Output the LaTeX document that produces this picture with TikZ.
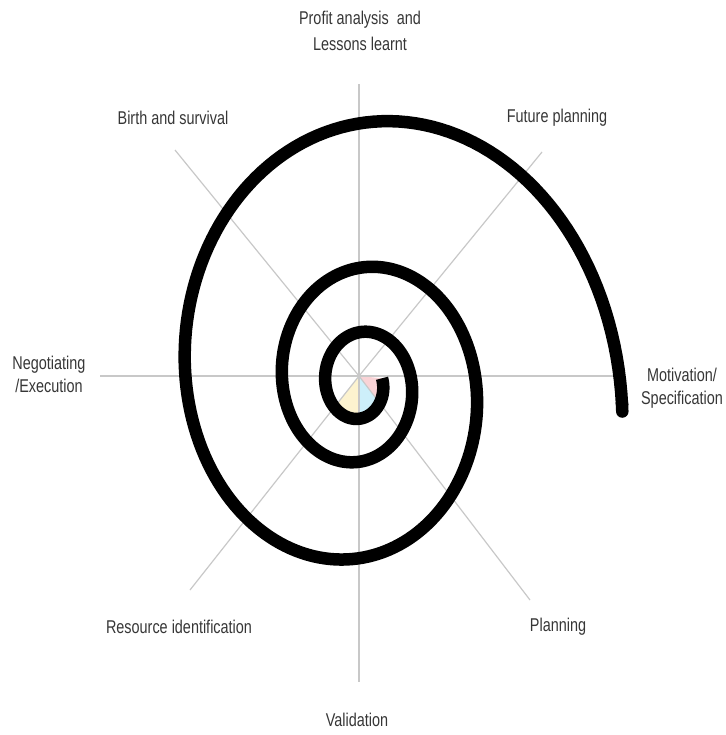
\documentclass[tikz,border=0pt]{standalone}
\usepackage{fontspec}
\setmainfont{Liberation Sans}[FakeStretch=0.78]
\usepackage{tikz}
\usetikzlibrary{arrows.meta}
\definecolor{spokegray}{HTML}{C8C8C8}
\definecolor{textgray}{HTML}{363636}
\definecolor{pinkfill}{HTML}{F9D3D6}
\definecolor{cyanfill}{HTML}{CDEFFA}
\definecolor{yellowfill}{HTML}{FDF3CF}
\tikzstyle{spoke} = [draw=spokegray, line width=1.2pt]
\tikzstyle{stage} = [text=textgray, align=center, inner sep=0pt, font=\fontsize{18.5}{23}\selectfont]
\tikzstyle{spiral} = [draw=black, line width=12.5pt, -{Round Cap[]}]

\begin{document}
\begin{tikzpicture}[x=1pt, y=-1pt]
    \useasboundingbox (0,0) rectangle (725,735);

    % Centre and ends of the spokes
    \coordinate (O) at (359,376);
    \coordinate (eN) at (359,84);
    \coordinate (eNE) at (542,152);
    \coordinate (eE) at (615,376);
    \coordinate (eSE) at (530,600);
    \coordinate (eS) at (359,682);
    \coordinate (eSW) at (190,590);
    \coordinate (eW) at (100,376);
    \coordinate (eNW) at (175,150);

    % Coloured sectors inside the first turn
    \begin{scope}
        \clip (O) -- plot [domain=-12:200, samples=80, variable=\t]
            ({360+23.1*exp(0.00224*\t)*cos(\t)}, {384+28.3*exp(0.00224*\t)*sin(\t)}) -- cycle;
        \fill [pinkfill] (O) -- (eE) -- (eSE) -- cycle;
        \fill [cyanfill] (O) -- (eSE) -- (eS) -- cycle;
        \fill [yellowfill] (O) -- (eS) -- (eSW) -- cycle;
    \end{scope}

    % Spokes
    \draw [spoke] (O) -- (eN);
    \draw [spoke] (O) -- (eNE);
    \draw [spoke] (O) -- (eE);
    \draw [spoke] (O) -- (eSE);
    \draw [spoke] (O) -- (eS);
    \draw [spoke] (O) -- (eSW);
    \draw [spoke] (O) -- (eW);
    \draw [spoke] (O) -- (eNW);

    % Spiral
    \draw [spiral] plot [domain=-12:1086, samples=500, variable=\t]
        ({360+23.1*exp(0.00224*\t)*cos(\t)}, {384+28.3*exp(0.00224*\t)*sin(\t)});

    % Stage labels
    \node [stage] (profit) at (360,31) {Profit analysis\ \ and\\[3pt]Lessons learnt};
    \node [stage] (future) at (557,118) {Future planning};
    \node [stage] (motivation) at (682,388) {Motivation/\\Specification};
    \node [stage] (planning) at (558,627) {Planning};
    \node [stage] (validation) at (357,720) {Validation};
    \node [stage] (resource) at (179,627) {Resource identification};
    \node [stage] (negotiating) at (49,374) {Negotiating\\/Execution};
    \node [stage] (birth) at (173,118) {Birth and survival};
\end{tikzpicture}
\end{document}
